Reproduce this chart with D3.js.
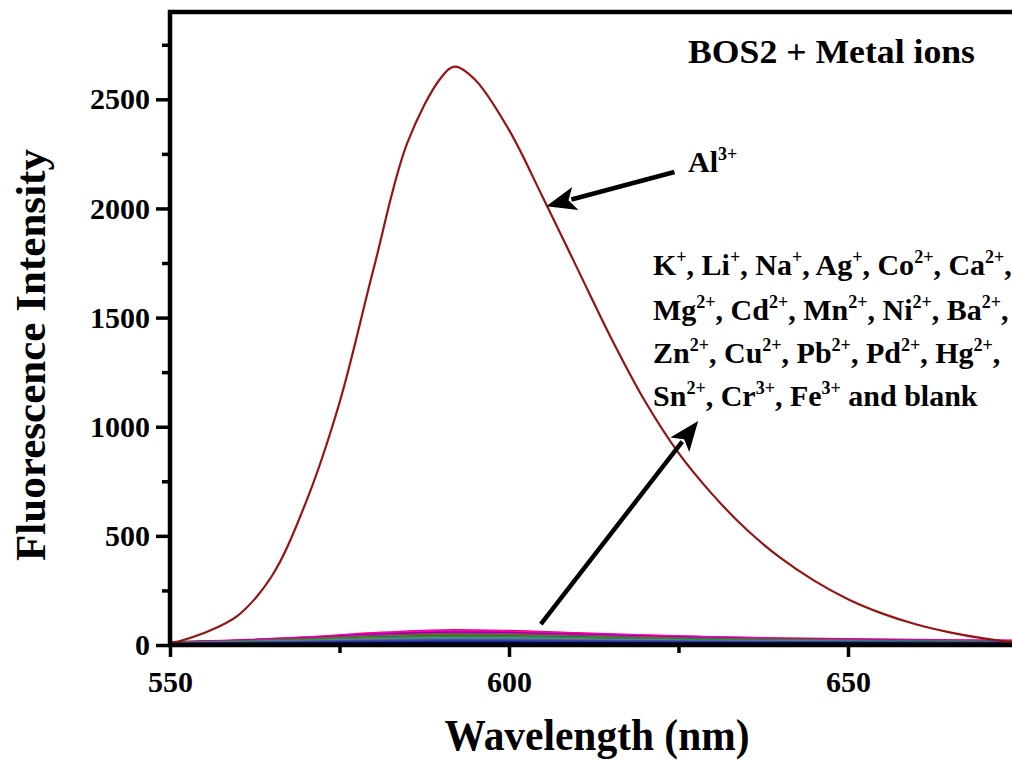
<!DOCTYPE html>
<html>
<head>
<meta charset="utf-8">
<script src="https://cdn.jsdelivr.net/npm/d3@7"></script>
<style>
  html, body { margin: 0; padding: 0; background: #fff; }
  svg { display: block; }
  text { font-family: "Times New Roman", "Liberation Serif", serif; font-weight: bold; fill: #000; }
</style>
</head>
<body>
<div id="graph"></div>
<script>
// Al3+ spectrum, read every 5 nm
const alWave = [550, 555, 560, 565, 570, 575, 580, 585, 590, 592, 595, 600, 605, 610, 615, 620, 625, 630, 635, 640, 645, 650, 655, 660, 665, 670, 675];
const alIntensity = [5, 55, 135, 315, 650, 1110, 1720, 2300, 2600, 2650, 2590, 2360, 2050, 1730, 1410, 1120, 880, 690, 530, 400, 295, 210, 145, 95, 58, 30, 10];

// other ions + blank, read every 10 nm (the flat band at the bottom)
const ionWave = [550, 560, 570, 580, 590, 600, 610, 620, 630, 640, 650, 660, 675];
const ionNames = ['Pb', 'Hg', 'Cu', 'Pd', 'Fe', 'Cr', 'Co', 'Ni', 'Zn', 'Mn', 'Cd', 'Sn', 'Ba', 'Ag', 'Ca', 'Mg', 'Na', 'Li', 'K', 'blank'];
const ionSpectra = [
  [14, 22, 36, 55, 68, 65, 55, 45, 37, 31, 27, 24, 20],
  [13, 21, 34, 52, 64, 61, 52, 43, 35, 29, 25, 22, 19],
  [12, 20, 32, 49, 60, 57, 49, 40, 33, 28, 24, 21, 18],
  [12, 19, 30, 46, 56, 54, 46, 38, 31, 26, 23, 20, 17],
  [11, 18, 28, 43, 52, 50, 43, 36, 30, 25, 22, 19, 17],
  [11, 17, 27, 40, 49, 47, 40, 34, 28, 24, 21, 18, 16],
  [10, 16, 25, 37, 45, 43, 37, 31, 26, 22, 19, 17, 15],
  [10, 15, 23, 34, 41, 40, 35, 29, 25, 21, 18, 16, 15],
  [9, 14, 22, 32, 38, 37, 32, 27, 23, 20, 17, 15, 14],
  [9, 13, 20, 29, 35, 34, 30, 25, 21, 18, 16, 15, 13],
  [9, 13, 19, 27, 32, 31, 27, 23, 20, 17, 15, 14, 13],
  [8, 12, 17, 25, 29, 28, 25, 21, 18, 16, 14, 13, 12],
  [8, 11, 16, 22, 26, 25, 22, 19, 17, 15, 13, 12, 12],
  [7, 10, 15, 20, 23, 23, 20, 18, 16, 14, 13, 12, 11],
  [7, 10, 14, 18, 21, 20, 18, 16, 14, 13, 12, 11, 11],
  [6, 9, 12, 16, 18, 18, 16, 15, 13, 12, 11, 11, 10],
  [6, 8, 11, 14, 16, 16, 15, 13, 12, 11, 11, 10, 10],
  [5, 7, 10, 12, 14, 14, 13, 12, 11, 10, 10, 9, 9],
  [5, 7, 9, 11, 12, 12, 11, 10, 10, 9, 9, 8, 8],
  [4, 6, 7, 9, 10, 10, 9, 9, 8, 8, 8, 7, 7]
];
const ionColors = ['#ff0044', '#ff00ff', '#cc0099', '#800080', '#9933cc', '#993366', '#808000', '#008000',
  '#4d8c4d', '#008080', '#6b8e6b', '#7f7f7f', '#4f6f8f', '#3366aa', '#3f4fa8', '#3344aa',
  '#2f3fa0', '#333399', '#2b2b8f', '#000080'];

const xMajor = [550, 600, 650];
const xMinor = [575, 625];
const yMajor = [0, 500, 1000, 1500, 2000, 2500];
const yMinor = [250, 750, 1250, 1750, 2250, 2750];

// legend text lines: [symbol, charge]
const ionLines = [
  [['K', '+'], ['Li', '+'], ['Na', '+'], ['Ag', '+'], ['Co', '2+'], ['Ca', '2+']],
  [['Mg', '2+'], ['Cd', '2+'], ['Mn', '2+'], ['Ni', '2+'], ['Ba', '2+']],
  [['Zn', '2+'], ['Cu', '2+'], ['Pb', '2+'], ['Pd', '2+'], ['Hg', '2+']],
  [['Sn', '2+'], ['Cr', '3+'], ['Fe', '3+']]
];

const W = 1012, H = 760;
const mLeft = 170, mBottom = 645, mTop = 12;

const svg = d3.select('#graph')
  .append('svg')
  .attr('width', W)
  .attr('height', H);

const x = d3.scaleLinear().domain([550, 675]).range([mLeft, mLeft + 125 * 6.78]);
const y = d3.scaleLinear().domain([0, 2900]).range([mBottom, mTop]);

const line = d3.line()
  .x(d => x(d[0]))
  .y(d => y(d[1]))
  .curve(d3.curveCatmullRom);

// small spectra first, low ones last so the blue band sits on top
ionSpectra.forEach((vals, i) => {
  svg.append('path')
    .attr('class', 'ion ' + ionNames[i])
    .attr('d', line(ionWave.map((w, j) => [w, vals[j]])))
    .attr('fill', 'none')
    .attr('stroke', ionColors[i])
    .attr('stroke-width', 2);
});

svg.append('path')
  .attr('d', line(alWave.map((w, j) => [w, alIntensity[j]])))
  .attr('fill', 'none')
  .attr('stroke', '#961414')
  .attr('stroke-width', 2.2);

// axes
const yAxis = svg.append('g')
  .attr('transform', `translate(${mLeft},0)`)
  .call(d3.axisLeft(y).tickValues(yMajor).tickSize(14).tickPadding(6).tickFormat(d3.format('d')));
const yAxisMinor = svg.append('g')
  .attr('transform', `translate(${mLeft},0)`)
  .call(d3.axisLeft(y).tickValues(yMinor).tickSize(8).tickFormat(''));
const xAxis = svg.append('g')
  .attr('transform', `translate(0,${mBottom})`)
  .call(d3.axisBottom(x).tickValues(xMajor).tickSize(12).tickPadding(14));
const xAxisMinor = svg.append('g')
  .attr('transform', `translate(0,${mBottom})`)
  .call(d3.axisBottom(x).tickValues(xMinor).tickSize(8).tickFormat(''));

[yAxis, yAxisMinor, xAxis, xAxisMinor].forEach(g => {
  g.select('.domain').remove();
  g.selectAll('line').attr('stroke', '#000').attr('stroke-width', 3.5);
  g.selectAll('text')
    .style('font-family', '"Times New Roman", "Liberation Serif", serif')
    .style('font-weight', 'bold')
    .style('font-size', '30px')
    .attr('fill', '#000');
});

// frame (right side is off the page)
svg.append('path')
  .attr('d', `M${W + 5},${mTop} H${mLeft} V${mBottom} H${W + 5}`)
  .attr('fill', 'none')
  .attr('stroke', '#000')
  .attr('stroke-width', 4.5);

// titles
svg.append('text')
  .attr('transform', 'translate(45,355) rotate(-90)')
  .attr('text-anchor', 'middle')
  .attr('textLength', 412)
  .attr('lengthAdjust', 'spacingAndGlyphs')
  .style('font-size', '42px')
  .text('Fluorescence Intensity');

svg.append('text')
  .attr('x', 597)
  .attr('y', 750)
  .attr('text-anchor', 'middle')
  .attr('textLength', 305)
  .attr('lengthAdjust', 'spacingAndGlyphs')
  .style('font-size', '44px')
  .text('Wavelength (nm)');

svg.append('text')
  .attr('x', 688)
  .attr('y', 63)
  .attr('textLength', 287)
  .attr('lengthAdjust', 'spacingAndGlyphs')
  .style('font-size', '34px')
  .text('BOS2 + Metal ions');

// Al3+ label and arrow
const al = svg.append('text')
  .attr('x', 688)
  .attr('y', 172)
  .style('font-size', '30px');
al.append('tspan').text('Al');
al.append('tspan').attr('dy', -12).style('font-size', '18px').text('3+');

function arrow(x1, y1, x2, y2) {
  const ang = Math.atan2(y2 - y1, x2 - x1);
  const len = 30, half = 12;
  const bx = x2 - len * Math.cos(ang), by = y2 - len * Math.sin(ang);
  svg.append('line')
    .attr('x1', x1).attr('y1', y1)
    .attr('x2', bx + 4 * Math.cos(ang)).attr('y2', by + 4 * Math.sin(ang))
    .attr('stroke', '#000')
    .attr('stroke-width', 4.5);
  const pts = [
    [x2, y2],
    [bx + half * Math.sin(ang), by - half * Math.cos(ang)],
    [bx + 7 * Math.cos(ang), by + 7 * Math.sin(ang)],
    [bx - half * Math.sin(ang), by + half * Math.cos(ang)]
  ];
  svg.append('polygon')
    .attr('points', pts.map(p => p.join(',')).join(' '))
    .attr('fill', '#000');
}

arrow(x(624.4), y(2167), x(605.5), y(2010));
arrow(x(604.7), y(96), x(627.9), y(1026));

// ion list
const baselines = [275, 320, 363, 406];
ionLines.forEach((ions, li) => {
  const t = svg.append('text')
    .attr('x', 653)
    .attr('y', baselines[li])
    .style('font-size', '30px');
  ions.forEach((ion, k) => {
    t.append('tspan').attr('dy', k === 0 ? 0 : 12).text((k === 0 ? '' : ', ') + ion[0]);
    t.append('tspan').attr('dy', -12).style('font-size', '18px').text(ion[1]);
  });
  const tail = li === ionLines.length - 1 ? ' and blank' : ',';
  t.append('tspan').attr('dy', 12).text(tail);
});
</script>
</body>
</html>
